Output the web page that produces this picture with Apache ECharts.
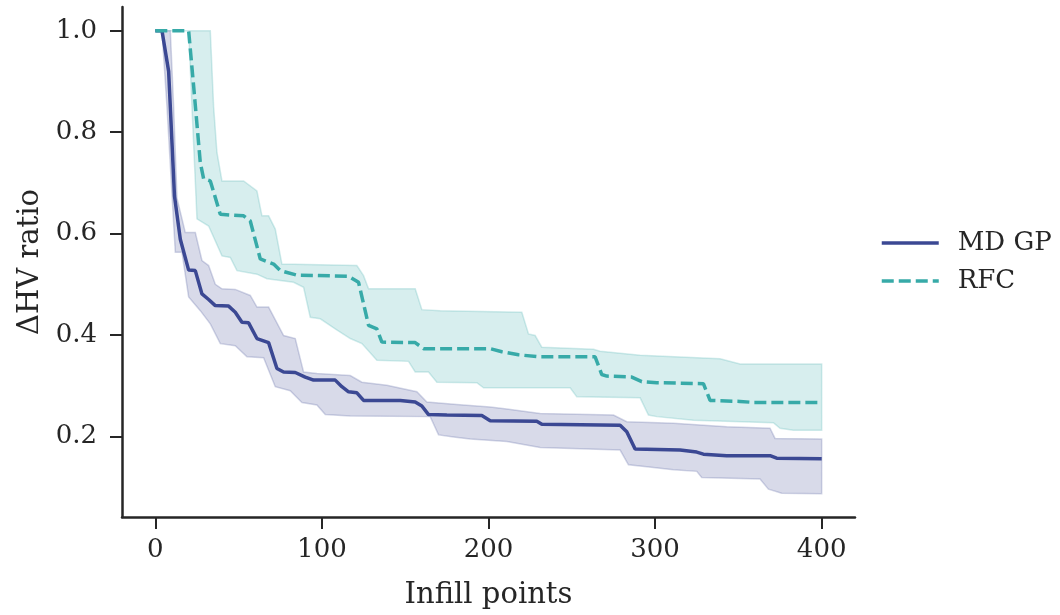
<!DOCTYPE html>
<html>
<head>
<meta charset="utf-8">
<script src="https://cdn.jsdelivr.net/npm/echarts@6/dist/echarts.min.js"></script>
<style>
html,body{margin:0;padding:0;background:#fff;}
#chart{width:1060px;height:615px;}
</style>
</head>
<body>
<div id="chart"></div>
<script>
// ---- data ----
const xTicks = [0, 100, 200, 300, 400];
const yTicks = [0.2, 0.4, 0.6, 0.8, 1.0];
const seriesNames = ['MD GP', 'RFC'];

const mdgpMean = [[0,1.0],[4,1.0],[8,0.92],[11.5,0.674],[15,0.589],[20,0.528],[24,0.527],[28,0.481],[32,0.47],[36,0.458],[44,0.457],[48,0.445],[52,0.425],[56,0.424],[61,0.393],[68,0.385],[73,0.334],[77,0.327],[84,0.326],[90,0.317],[95,0.311],[108,0.311],[112,0.298],[116,0.288],[121,0.286],[125,0.271],[147,0.271],[156,0.268],[160,0.26],[164,0.243],[175,0.242],[196,0.241],[201,0.231],[229,0.23],[232,0.224],[279,0.222],[283,0.209],[288,0.175],[315,0.173],[325,0.169],[329,0.165],[343,0.162],[369,0.162],[373,0.157],[400,0.156]];
const mdgpUpper = [[0,1.0],[9,1.0],[11,0.85],[13,0.67],[18,0.602],[24,0.602],[28,0.547],[32,0.537],[36,0.5],[40,0.491],[48,0.49],[57,0.478],[61,0.455],[68,0.455],[77,0.399],[84,0.393],[88,0.34],[89,0.327],[97,0.324],[117,0.32],[124,0.307],[139,0.301],[157,0.288],[163,0.268],[181,0.263],[201,0.258],[211,0.254],[231,0.245],[275,0.242],[283,0.229],[311,0.226],[343,0.219],[369,0.216],[372,0.196],[400,0.195]];
const mdgpLower = [[0,1.0],[4,1.0],[7,0.85],[12,0.563],[16,0.563],[20,0.475],[27,0.448],[33,0.422],[39,0.383],[48,0.379],[55,0.357],[65,0.355],[72,0.298],[81,0.29],[88,0.267],[97,0.262],[102,0.243],[117,0.24],[165,0.239],[170,0.203],[179,0.199],[189,0.195],[211,0.19],[231,0.178],[279,0.173],[284,0.144],[295,0.14],[311,0.134],[325,0.131],[328,0.119],[363,0.116],[368,0.096],[376,0.088],[400,0.087]];

const rfcMean = [[0,1.0],[20,1.0],[23,0.891],[27,0.74],[29,0.708],[33,0.704],[39,0.638],[53,0.635],[57,0.625],[63,0.55],[71,0.54],[75,0.527],[85,0.518],[116,0.516],[122,0.504],[128,0.419],[133,0.412],[136,0.386],[156,0.385],[161,0.373],[201,0.373],[208,0.367],[218,0.361],[230,0.357],[264,0.357],[268,0.322],[271,0.319],[286,0.317],[292,0.308],[301,0.306],[329,0.304],[333,0.271],[351,0.269],[359,0.267],[400,0.267]];
const rfcUpper = [[0,1.0],[33,1.0],[35,0.85],[37,0.76],[40,0.704],[53,0.704],[61,0.684],[64,0.635],[68,0.635],[72,0.609],[76,0.54],[121,0.537],[125,0.517],[128,0.491],[156,0.491],[160,0.45],[171,0.448],[220,0.445],[224,0.402],[228,0.399],[232,0.376],[263,0.372],[267,0.368],[291,0.36],[339,0.353],[351,0.343],[400,0.343]];
const rfcLower = [[0,1.0],[20,1.0],[22,0.85],[25,0.629],[32,0.615],[40,0.556],[45,0.553],[49,0.527],[61,0.52],[67,0.511],[83,0.504],[89,0.494],[93,0.435],[99,0.432],[108,0.412],[117,0.393],[124,0.383],[133,0.35],[152,0.348],[156,0.327],[164,0.327],[169,0.307],[193,0.306],[197,0.296],[249,0.296],[253,0.278],[291,0.276],[296,0.242],[301,0.239],[323,0.232],[371,0.227],[375,0.216],[383,0.212],[400,0.212]];

// ---- styles ----
const FONT = 'DejaVu Serif';
const INK = '#262626';
const C_MDGP = '#3b4893';
const C_RFC = '#37aaa8';

function band(upper, lower, fill, stroke) {
  const poly = upper.concat(lower.slice().reverse());
  return {
    type: 'custom',
    silent: true,
    z: 1,
    data: poly,
    encode: { x: 0, y: 1 },
    renderItem: function (params, api) {
      if (params.dataIndex !== 0) return null;
      const pts = poly.map(p => api.coord(p));
      return {
        type: 'polygon',
        shape: { points: pts },
        style: { fill: fill, stroke: stroke, lineWidth: 1.5 }
      };
    }
  };
}

const chart = echarts.init(document.getElementById('chart'), null, { renderer: 'canvas' });
chart.setOption({
  animation: false,
  backgroundColor: '#ffffff',
  grid: { left: 122, right: 205, top: 7, bottom: 96, containLabel: false },
  legend: {
    data: seriesNames,
    orient: 'vertical',
    left: 880,
    top: 230,
    padding: 0,
    itemWidth: 57,
    itemHeight: 14,
    itemGap: 12,
    itemStyle: { opacity: 0 },
    lineStyle: { width: 3.5 },
    textStyle: { fontFamily: FONT, fontSize: 26, color: INK, padding: [0, 0, 0, 14] }
  },
  xAxis: {
    type: 'value',
    min: -20,
    max: 420,
    name: 'Infill points',
    nameLocation: 'middle',
    nameGap: 64,
    nameTextStyle: { fontFamily: FONT, fontSize: 29, color: INK },
    axisLine: { show: true, onZero: false, lineStyle: { color: INK, width: 2.5 } },
    axisTick: { show: true, customValues: xTicks, length: 12, lineStyle: { color: INK, width: 2 } },
    axisLabel: { customValues: xTicks, margin: 20, fontFamily: FONT, fontSize: 26, color: INK },
    splitLine: { show: false }
  },
  yAxis: {
    type: 'value',
    min: 0.041,
    max: 1.047,
    name: 'ΔHV ratio',
    nameLocation: 'middle',
    nameGap: 73,
    nameTextStyle: { fontFamily: FONT, fontSize: 29, color: INK },
    axisLine: { show: true, onZero: false, lineStyle: { color: INK, width: 2.5 } },
    axisTick: { show: true, customValues: yTicks, length: 12, lineStyle: { color: INK, width: 2 } },
    axisLabel: { customValues: yTicks, margin: 25, fontFamily: FONT, fontSize: 26, color: INK,
      formatter: v => v.toFixed(1) },
    splitLine: { show: false }
  },
  series: [
    band(mdgpUpper, mdgpLower, 'rgba(59,72,147,0.2)', 'rgba(59,72,147,0.22)'),
    band(rfcUpper, rfcLower, 'rgba(55,170,168,0.2)', 'rgba(55,170,168,0.22)'),
    {
      name: 'MD GP', type: 'line', data: mdgpMean, symbol: 'none', z: 3,
      lineStyle: { color: C_MDGP, width: 3.5 }, itemStyle: { color: C_MDGP }
    },
    {
      name: 'RFC', type: 'line', data: rfcMean, symbol: 'none', z: 3,
      lineStyle: { color: C_RFC, width: 3.5, type: [12, 5] }, itemStyle: { color: C_RFC }
    }
  ]
});
</script>
</body>
</html>
